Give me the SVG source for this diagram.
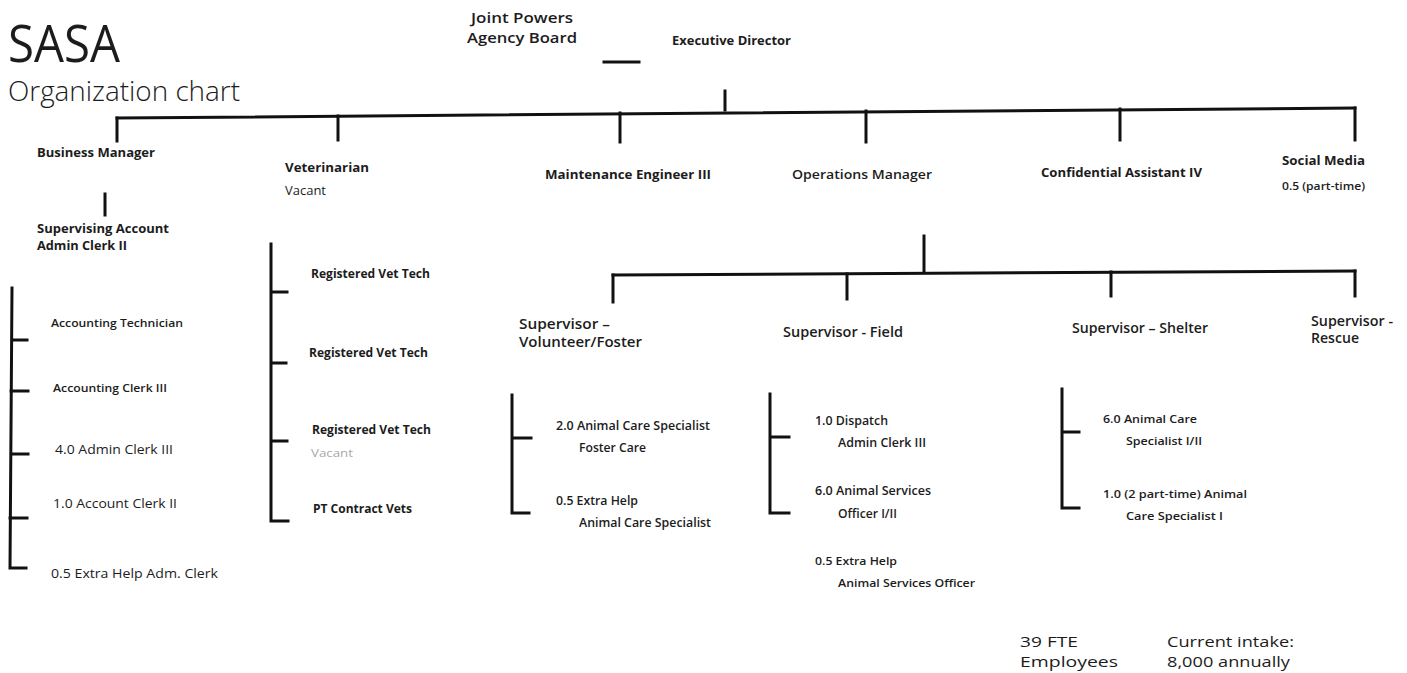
<svg xmlns="http://www.w3.org/2000/svg" width="1407" height="673" viewBox="0 0 1407 673">
<style>
text{font-family:"Open Sans","Noto Sans","Liberation Sans",sans-serif;fill:#1c1c1c}
.b{font-weight:700}
.s{font-weight:600}
.r{font-weight:400}
.ln{stroke:#111;stroke-width:3;fill:none;stroke-linecap:square}
.faded{fill:#a8a8a8}
</style>
<rect width="1407" height="673" fill="#fff"/>
<g id="title">
<text x="8" y="62" font-size="52" textLength="112" lengthAdjust="spacingAndGlyphs" class="r">SASA</text>
<text x="8" y="101" font-size="27" textLength="232" lengthAdjust="spacingAndGlyphs" style="font-weight:300">Organization chart</text>
</g>
<g id="connectors">
<line class="ln" x1="604" y1="62" x2="639" y2="62" stroke-width="2"/>
<line class="ln" x1="725" y1="91" x2="725" y2="110"/>
<line class="ln" x1="117" y1="118" x2="1355" y2="108"/>
<line class="ln" x1="117" y1="118" x2="117" y2="141"/>
<line class="ln" x1="338" y1="116" x2="338" y2="140"/>
<line class="ln" x1="620" y1="113" x2="620" y2="142"/>
<line class="ln" x1="866" y1="111" x2="866" y2="142"/>
<line class="ln" x1="1120" y1="109" x2="1120" y2="140"/>
<line class="ln" x1="1355" y1="108" x2="1355" y2="140"/>
<line class="ln" x1="105" y1="194" x2="105" y2="215"/>
<path class="ln" d="M12 288 L10 568 L26 568 M12 340 L27 340 M11 391 L28 391 M11 454 L28 454 M10 518 L27 518"/>
<path class="ln" d="M271 244 L271 521 L288 521 M271 292 L287 292 M271 363 L286 363 M271 441 L287 441"/>
<line class="ln" x1="924" y1="236" x2="924" y2="272"/>
<line class="ln" x1="613" y1="275" x2="1355" y2="271"/>
<line class="ln" x1="613" y1="275" x2="613" y2="302"/>
<line class="ln" x1="847" y1="274" x2="847" y2="299"/>
<line class="ln" x1="1111" y1="272" x2="1111" y2="296"/>
<line class="ln" x1="1355" y1="271" x2="1355" y2="296"/>
<path class="ln" d="M512 395 L512 513 L529 513 M512 438 L531 438"/>
<path class="ln" d="M770 394 L770 513 L789 513 M770 437 L789 437"/>
<path class="ln" d="M1062 389 L1062 508 L1079 508 M1062 432 L1079 432"/>
</g>
<g id="jpa-board">
<text x="471" y="23" font-size="15" textLength="102" lengthAdjust="spacingAndGlyphs" class="s">Joint Powers</text>
<text x="467" y="43" font-size="15" textLength="110" lengthAdjust="spacingAndGlyphs" class="s">Agency Board</text>
</g>
<g id="executive-director">
<text x="672" y="45" font-size="12" textLength="119" lengthAdjust="spacingAndGlyphs" class="b">Executive Director</text>
</g>
<g id="business-manager">
<text x="37" y="157" font-size="13" textLength="118" lengthAdjust="spacingAndGlyphs" class="b">Business Manager</text>
</g>
<g id="veterinarian">
<text x="285" y="172" font-size="13" textLength="84" lengthAdjust="spacingAndGlyphs" class="b">Veterinarian</text>
<text x="285" y="195" font-size="12" textLength="41" lengthAdjust="spacingAndGlyphs" class="r">Vacant</text>
</g>
<g id="maintenance-engineer">
<text x="545" y="179" font-size="13" textLength="166" lengthAdjust="spacingAndGlyphs" class="b">Maintenance Engineer III</text>
</g>
<g id="operations-manager">
<text x="792" y="179" font-size="13" textLength="140" lengthAdjust="spacingAndGlyphs" class="s">Operations Manager</text>
</g>
<g id="confidential-assistant">
<text x="1041" y="177" font-size="13" textLength="161" lengthAdjust="spacingAndGlyphs" class="b">Confidential Assistant IV</text>
</g>
<g id="social-media">
<text x="1282" y="165" font-size="12" textLength="83" lengthAdjust="spacingAndGlyphs" class="b">Social Media</text>
<text x="1282" y="190" font-size="11" textLength="83" lengthAdjust="spacingAndGlyphs" class="s">0.5 (part-time)</text>
</g>
<g id="supervising-account">
<text x="37" y="233" font-size="12.5" textLength="132" lengthAdjust="spacingAndGlyphs" class="b">Supervising Account</text>
<text x="37" y="250" font-size="12.5" textLength="90" lengthAdjust="spacingAndGlyphs" class="b">Admin Clerk II</text>
</g>
<g id="business-staff">
<text x="51" y="327" font-size="11.5" textLength="132" lengthAdjust="spacingAndGlyphs" class="s">Accounting Technician</text>
<text x="53" y="392" font-size="11.5" textLength="114" lengthAdjust="spacingAndGlyphs" class="s">Accounting Clerk III</text>
<text x="55" y="454" font-size="13" textLength="118" lengthAdjust="spacingAndGlyphs" class="r">4.0 Admin Clerk III</text>
<text x="53" y="508" font-size="13" textLength="124" lengthAdjust="spacingAndGlyphs" class="r">1.0 Account Clerk II</text>
<text x="51" y="578" font-size="12.5" textLength="167" lengthAdjust="spacingAndGlyphs" class="r">0.5 Extra Help Adm. Clerk</text>
</g>
<g id="vet-staff">
<text x="311" y="278" font-size="12" textLength="119" lengthAdjust="spacingAndGlyphs" class="b">Registered Vet Tech</text>
<text x="309" y="357" font-size="12" textLength="119" lengthAdjust="spacingAndGlyphs" class="b">Registered Vet Tech</text>
<text x="312" y="434" font-size="12" textLength="119" lengthAdjust="spacingAndGlyphs" class="b">Registered Vet Tech</text>
<text x="311" y="457" font-size="11" textLength="42" lengthAdjust="spacingAndGlyphs" class="r faded">Vacant</text>
<text x="313" y="513" font-size="12" textLength="99" lengthAdjust="spacingAndGlyphs" class="b">PT Contract Vets</text>
</g>
<g id="supervisor-volunteer">
<text x="519" y="329" font-size="14" textLength="91" lengthAdjust="spacingAndGlyphs" class="s">Supervisor –</text>
<text x="519" y="347" font-size="14" textLength="123" lengthAdjust="spacingAndGlyphs" class="s">Volunteer/Foster</text>
</g>
<g id="supervisor-field">
<text x="783" y="337" font-size="14" textLength="120" lengthAdjust="spacingAndGlyphs" class="s">Supervisor - Field</text>
</g>
<g id="supervisor-shelter">
<text x="1072" y="333" font-size="14" textLength="136" lengthAdjust="spacingAndGlyphs" class="s">Supervisor – Shelter</text>
</g>
<g id="supervisor-rescue">
<text x="1311" y="326" font-size="14" textLength="82" lengthAdjust="spacingAndGlyphs" class="s">Supervisor -</text>
<text x="1311" y="343" font-size="14" textLength="48" lengthAdjust="spacingAndGlyphs" class="s">Rescue</text>
</g>
<g id="foster-staff">
<text x="556" y="430" font-size="12" textLength="154" lengthAdjust="spacingAndGlyphs" class="s">2.0 Animal Care Specialist</text>
<text x="579" y="452" font-size="12" textLength="67" lengthAdjust="spacingAndGlyphs" class="s">Foster Care</text>
<text x="556" y="505" font-size="12" textLength="82" lengthAdjust="spacingAndGlyphs" class="s">0.5 Extra Help</text>
<text x="579" y="527" font-size="12" textLength="132" lengthAdjust="spacingAndGlyphs" class="s">Animal Care Specialist</text>
</g>
<g id="field-staff">
<text x="815" y="425" font-size="12" textLength="73" lengthAdjust="spacingAndGlyphs" class="s">1.0 Dispatch</text>
<text x="838" y="447" font-size="12" textLength="88" lengthAdjust="spacingAndGlyphs" class="s">Admin Clerk III</text>
<text x="815" y="495" font-size="12" textLength="116" lengthAdjust="spacingAndGlyphs" class="s">6.0 Animal Services</text>
<text x="838" y="518" font-size="12" textLength="59" lengthAdjust="spacingAndGlyphs" class="s">Officer I/II</text>
<text x="815" y="565" font-size="11" textLength="82" lengthAdjust="spacingAndGlyphs" class="s">0.5 Extra Help</text>
<text x="838" y="587" font-size="11" textLength="137" lengthAdjust="spacingAndGlyphs" class="s">Animal Services Officer</text>
</g>
<g id="shelter-staff">
<text x="1103" y="423" font-size="11.5" textLength="94" lengthAdjust="spacingAndGlyphs" class="s">6.0 Animal Care</text>
<text x="1126" y="445" font-size="11.5" textLength="76" lengthAdjust="spacingAndGlyphs" class="s">Specialist I/II</text>
<text x="1103" y="498" font-size="11.5" textLength="144" lengthAdjust="spacingAndGlyphs" class="s">1.0 (2 part-time) Animal</text>
<text x="1126" y="520" font-size="11.5" textLength="97" lengthAdjust="spacingAndGlyphs" class="s">Care Specialist I</text>
</g>
<g id="summary">
<text x="1020" y="647" font-size="15" textLength="58" lengthAdjust="spacingAndGlyphs" class="r">39 FTE</text>
<text x="1020" y="667" font-size="15" textLength="98" lengthAdjust="spacingAndGlyphs" class="r">Employees</text>
<text x="1167" y="647" font-size="15" textLength="127" lengthAdjust="spacingAndGlyphs" class="r">Current intake:</text>
<text x="1167" y="667" font-size="15" textLength="123" lengthAdjust="spacingAndGlyphs" class="r">8,000 annually</text>
</g>
</svg>
